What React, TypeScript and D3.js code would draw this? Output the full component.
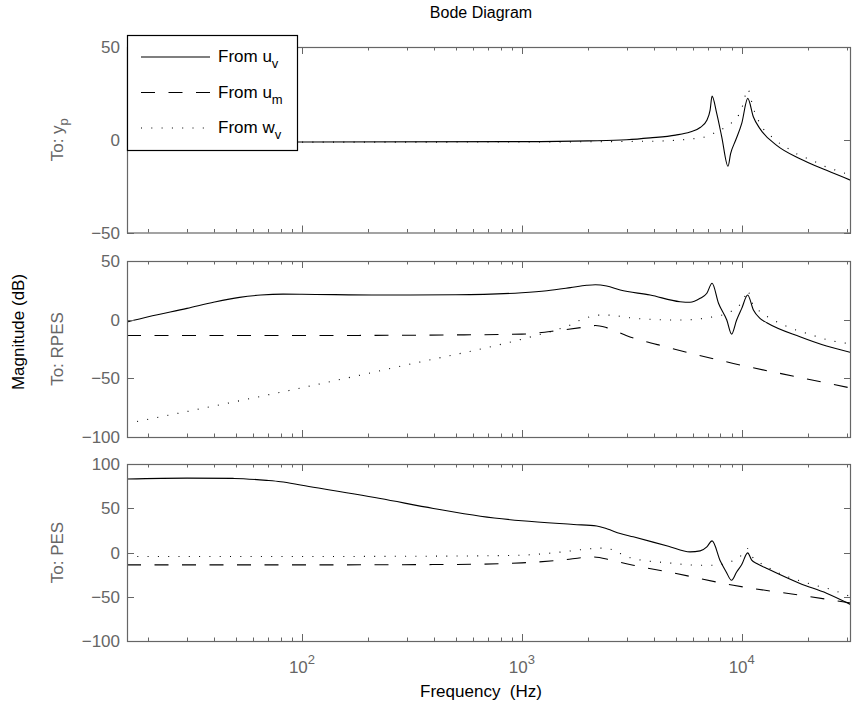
import * as d3 from 'd3';

const FONT = '"Liberation Sans", Arial, Helvetica, sans-serif';
const AXIS = '#666666';

// magnitudes, [frequency Hz, dB]
const ypFromUv: [number, number][] = [
  [16, -1.2], [100, -1.2], [1000, -1], [2000, -0.6], [3000, 0], [3830, 1], [5000, 2.5],
  [5820, 4.2], [6470, 6.6], [6940, 10.5], [7180, 16], [7330, 23.5], [7690, 14.3],
  [8110, 1.6], [8660, -14.3], [8900, -7.5], [9380, -0.3], [10000, 8.8], [10650, 22.3],
  [11300, 12.3], [12100, 6], [14420, -3], [18400, -10.2], [24300, -16.5], [31400, -21.9],
];
const ypFromWv: [number, number][] = [
  [16, -1.3], [100, -1.3], [1000, -1.2], [3830, -0.8], [6470, 1], [7430, 3.4], [8240, 6.1],
  [9010, 9.2], [9670, 13.2], [10110, 18.6], [10640, 27.3], [11300, 16.9], [12400, 6.6],
  [13460, 2.4], [14420, -0.8], [15870, -3.9], [17460, -7.1], [19190, -9.3], [21150, -11.4],
  [23230, -13.8], [25630, -15.6], [28260, -17.4], [31400, -19],
];

const rpesFromUv: [number, number][] = [
  [16, -2], [20, 2.5], [30, 9.6], [40, 15], [52, 19], [65, 21], [82, 21.8], [100, 21.7],
  [227, 21], [500, 21.2], [1000, 23], [1300, 24.7], [1660, 27.3], [1970, 29.3], [2160, 29.8],
  [2430, 28.7], [2800, 25.3], [3830, 21], [5240, 15.3], [5820, 14.8], [6470, 18.2],
  [6940, 22.5], [7330, 31], [7840, 14], [8550, -0.3], [8990, -12.3], [9480, -0.3],
  [10000, 9.6], [10640, 21], [11300, 8.2], [12100, 1.1], [13000, -2.6], [18400, -14.6],
  [24300, -22.5], [31400, -28],
];
const rpesFromUm: [number, number][] = [
  [16, -13.5], [100, -13.5], [500, -13], [1000, -12.3], [1500, -9], [1900, -6.5],
  [2160, -5], [2430, -6.8], [3000, -13.7], [4640, -23.7], [9160, -37.3], [18400, -49.3],
  [31400, -58.3],
];
const rpesFromWv: [number, number][] = [
  [16, -88.5], [100, -58], [300, -38.5], [1000, -16.6], [1490, -7.7], [1660, -4.6],
  [1800, -1.2], [2000, 2], [2230, 3.9], [2470, 3.9], [2730, 3.1], [3100, 1.6], [3830, 0.3],
  [5240, -0.3], [7180, 2], [8860, 6.7], [9600, 11], [10200, 17], [10640, 25], [11100, 15],
  [11700, 9.6], [13940, -0.3], [16860, -7.4], [20800, -13], [25630, -18], [31400, -20.5],
];

const pesFromUv: [number, number][] = [
  [16, 83], [30, 84], [49, 83.7], [69, 81.5], [80, 80], [100, 76], [227, 61], [396, 49.8],
  [648, 41], [1000, 35.8], [1720, 31.7], [2190, 30], [2450, 26.5], [2800, 21.5],
  [3210, 17.7], [4640, 7.1], [5820, 0.7], [6470, 1.8], [6940, 6.4], [7330, 13.1],
  [8000, -10], [8500, -22], [8990, -31.4], [9480, -22], [10000, -13.6], [10640, -0.4],
  [11100, -8.7], [11700, -12.5], [13000, -18], [18400, -35], [24300, -46], [31400, -59],
];
const pesFromUm: [number, number][] = [
  [16, -14], [100, -14], [500, -13.5], [1000, -11.7], [1500, -8.7], [2100, -5], [2500, -8],
  [2800, -11], [3210, -14.4], [4640, -22], [9160, -37], [18400, -48.3], [31400, -57],
];
const pesFromWv: [number, number][] = [
  [16, -4.5], [100, -4.5], [500, -4], [1000, -3], [1500, 0.5], [2000, 4], [2260, 5],
  [2600, 3], [2800, -1], [3210, -6.8], [4640, -11.7], [6470, -14.4], [7430, -14.4],
  [8860, -10.6], [9500, -7], [10000, -3], [10640, 4.5], [11100, -4], [11700, -9],
  [13000, -16], [14960, -24], [18400, -32], [21150, -36.5], [25630, -42], [31400, -50],
];

const ypTicks = [-50, 0, 50];
const rpesTicks = [-100, -50, 0, 50];
const pesTicks = [-100, -50, 0, 50, 100];
const decades = [100, 1000, 10000];
const decadeExp = ['2', '3', '4'];
const legendNames = ['v', 'm', 'v'];
const legendVars = ['u', 'u', 'w'];

const STYLES = [
  { dash: undefined as string | undefined, w: 1.1 },
  { dash: '14 13.5', w: 1.1 },
  { dash: '1 9.3', w: 1.1 },
];

export default function App() {
  const W = 852;
  const H = 709;
  const left = 127;
  const right = 851;
  const x = d3.scaleLog().domain([16, 31400]).range([left, right]);
  const allTicks = x.ticks();
  const minor = allTicks.filter((t) => !decades.includes(t));

  const panels = [
    { id: 'p1', top: 47, bottom: 232.5, domain: [-50, 50], ticks: ypTicks, to: 'y', sub: 'p',
      series: [ypFromUv, null, ypFromWv] },
    { id: 'p2', top: 261, bottom: 437, domain: [-100, 50], ticks: rpesTicks, to: 'RPES', sub: '',
      series: [rpesFromUv, rpesFromUm, rpesFromWv] },
    { id: 'p3', top: 464, bottom: 641, domain: [-100, 100], ticks: pesTicks, to: 'PES', sub: '',
      series: [pesFromUv, pesFromUm, pesFromWv] },
  ];

  const text = { fontFamily: FONT } as const;

  return (
    <svg width={W} height={H} style={{ position: 'absolute', left: 0, top: 0, background: '#fff' }}>
      <defs>
        {panels.map((p) => (
          <clipPath id={`clip-${p.id}`} key={p.id}>
            <rect x={left} y={p.top} width={right - left} height={p.bottom - p.top} />
          </clipPath>
        ))}
      </defs>
      <text x={481} y={18} textAnchor="middle" fontSize={16} fill="#000" style={text}>
        Bode Diagram
      </text>
      <text transform="translate(24,332) rotate(-90)" textAnchor="middle" fontSize={17} fill="#000" style={text}>
        Magnitude (dB)
      </text>
      {panels.map((p) => {
        const y = d3.scaleLinear().domain(p.domain).range([p.bottom, p.top]);
        const line = d3
          .line<[number, number]>()
          .x((d) => x(d[0]))
          .y((d) => y(d[1]))
          .curve(d3.curveMonotoneX);
        const mid = (p.top + p.bottom) / 2;
        return (
          <g key={p.id}>
            <g clipPath={`url(#clip-${p.id})`}>
              {p.series.map((s, i) =>
                s ? (
                  <path key={i} d={line(s) ?? ''} fill="none" stroke="#000"
                    strokeWidth={STYLES[i].w} strokeDasharray={STYLES[i].dash} />
                ) : null,
              )}
            </g>
            <rect x={left + 0.5} y={p.top + 0.5} width={right - left - 1} height={p.bottom - p.top}
              fill="none" stroke={AXIS} strokeWidth={1.2} />
            {minor.map((t) => (
              <g key={t} stroke={AXIS} strokeWidth={1}>
                <line x1={Math.round(x(t)) + 0.5} x2={Math.round(x(t)) + 0.5} y1={p.top} y2={p.top + 3.5} />
                <line x1={Math.round(x(t)) + 0.5} x2={Math.round(x(t)) + 0.5} y1={p.bottom} y2={p.bottom - 3.5} />
              </g>
            ))}
            {decades.map((t) => (
              <g key={t} stroke={AXIS} strokeWidth={1}>
                <line x1={Math.round(x(t)) + 0.5} x2={Math.round(x(t)) + 0.5} y1={p.top} y2={p.top + 7} />
                <line x1={Math.round(x(t)) + 0.5} x2={Math.round(x(t)) + 0.5} y1={p.bottom} y2={p.bottom - 7} />
              </g>
            ))}
            {p.ticks.map((t) => (
              <g key={t}>
                <line x1={left} x2={left + 7} y1={Math.round(y(t)) + 0.5} y2={Math.round(y(t)) + 0.5}
                  stroke={AXIS} />
                <line x1={right} x2={right - 7} y1={Math.round(y(t)) + 0.5} y2={Math.round(y(t)) + 0.5}
                  stroke={AXIS} />
                <text x={120} y={y(t)} dy="0.36em" textAnchor="end" fontSize={17} fill={AXIS} style={text}>
                  {t < 0 ? `\u2212${-t}` : t}
                </text>
              </g>
            ))}
            <text transform={`translate(63,${mid}) rotate(-90)`} textAnchor="middle" fontSize={17}
              fill={AXIS} style={text}>
              To: {p.to}
              {p.sub ? <tspan dy={5} fontSize={13}>{p.sub}</tspan> : null}
            </text>
          </g>
        );
      })}
      {decades.map((t, i) => (
        <text key={t} x={x(t)} y={673} textAnchor="middle" fontSize={17} fill={AXIS} style={text}>
          10<tspan dy={-9} fontSize={13}>{decadeExp[i]}</tspan>
        </text>
      ))}
      <text x={481} y={697} textAnchor="middle" fontSize={17} fill="#000" style={{ ...text, whiteSpace: 'pre' }}>
        {'Frequency  (Hz)'}
      </text>
      <g>
        <rect x={127.5} y={35.5} width={170} height={115} fill="#fff" stroke="#000" strokeWidth={1.2} />
        {legendNames.map((n, i) => {
          const ly = 57 + i * 35.5;
          return (
            <g key={i}>
              <line x1={141} x2={210} y1={ly} y2={ly} stroke="#000" strokeWidth={STYLES[i].w}
                strokeDasharray={STYLES[i].dash} />
              <text x={218} y={ly + 5} fontSize={17} fill="#000" style={text}>
                From {legendVars[i]}
                <tspan dy={6} fontSize={13}>{n}</tspan>
              </text>
            </g>
          );
        })}
      </g>
    </svg>
  );
}
